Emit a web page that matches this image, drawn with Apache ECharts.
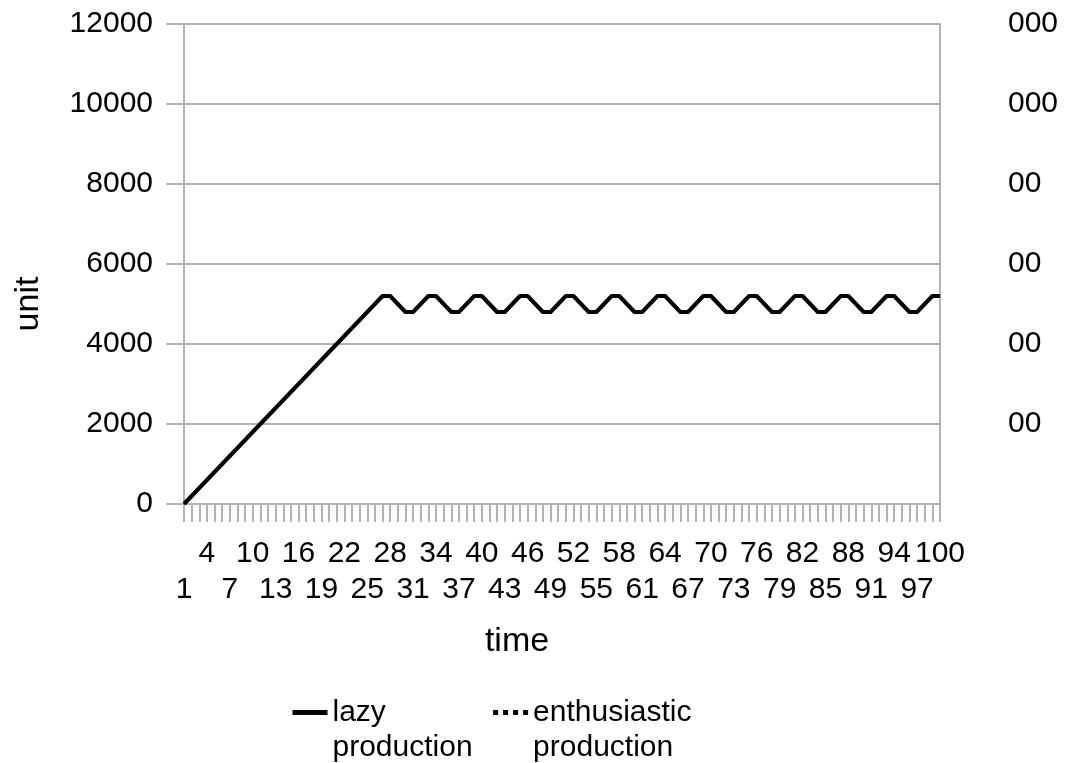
<!DOCTYPE html>
<html>
<head>
<meta charset="utf-8">
<title>production</title>
<script src="https://cdn.jsdelivr.net/npm/echarts@6/dist/echarts.min.js"></script>
<style>
  html, body { margin: 0; padding: 0; background: #ffffff; }
  #chart { width: 1077px; height: 763px; }
</style>
</head>
<body>
<div id="chart"></div>
<script>
// time steps 1..100
const timeSteps = [
  1, 2, 3, 4, 5, 6, 7, 8, 9, 10, 11, 12, 13, 14, 15, 16, 17, 18, 19, 20,
  21, 22, 23, 24, 25, 26, 27, 28, 29, 30, 31, 32, 33, 34, 35, 36, 37, 38, 39, 40,
  41, 42, 43, 44, 45, 46, 47, 48, 49, 50, 51, 52, 53, 54, 55, 56, 57, 58, 59, 60,
  61, 62, 63, 64, 65, 66, 67, 68, 69, 70, 71, 72, 73, 74, 75, 76, 77, 78, 79, 80,
  81, 82, 83, 84, 85, 86, 87, 88, 89, 90, 91, 92, 93, 94, 95, 96, 97, 98, 99, 100
];

// lazy production: ramp up, then oscillating around 5000
const lazyProduction = [
  0, 200, 400, 600, 800, 1000, 1200, 1400, 1600, 1800,
  2000, 2200, 2400, 2600, 2800, 3000, 3200, 3400, 3600, 3800,
  4000, 4200, 4400, 4600, 4800, 5000, 5200, 5200,
  5000, 4800, 4800, 5000, 5200, 5200,
  5000, 4800, 4800, 5000, 5200, 5200,
  5000, 4800, 4800, 5000, 5200, 5200,
  5000, 4800, 4800, 5000, 5200, 5200,
  5000, 4800, 4800, 5000, 5200, 5200,
  5000, 4800, 4800, 5000, 5200, 5200,
  5000, 4800, 4800, 5000, 5200, 5200,
  5000, 4800, 4800, 5000, 5200, 5200,
  5000, 4800, 4800, 5000, 5200, 5200,
  5000, 4800, 4800, 5000, 5200, 5200,
  5000, 4800, 4800, 5000, 5200, 5200,
  5000, 4800, 4800, 5000, 5200, 5200
];

// enthusiastic production: no points plotted
const enthusiasticProduction = [];

// tick labels of the secondary (right) axis, for 0, 2000, ... 12000
const rightTickLabels = ['', '00', '00', '00', '00', '000', '000'];

const seriesNames = ['lazy production', 'enthusiastic production'];

const FONT = '"Liberation Sans", Arial, sans-serif';
const GRID_GRAY = '#b3b3b3';

const chart = echarts.init(document.getElementById('chart'), null, { renderer: 'canvas' });

// shared look of the time-axis tick labels
const timeLabelBase = {
  fontFamily: FONT,
  fontSize: 30,
  lineHeight: 36,
  color: '#000000'
};

chart.setOption({
  backgroundColor: '#ffffff',
  animation: false,
  textStyle: { fontFamily: FONT, color: '#000000' },
  grid: { left: 184, right: 137, top: 24, bottom: 259, containLabel: false },
  legend: {
    left: 290,
    top: 660,
    padding: 0,
    orient: 'horizontal',
    itemWidth: 35,
    itemHeight: 14,
    itemGap: 18,
    data: seriesNames,
    itemStyle: { opacity: 0 },
    lineStyle: { width: 5 },
    formatter: function (name) {
      const parts = name.split(' ');
      return '\n' + parts[0] + '\n' + parts[1];
    },
    textStyle: { fontFamily: FONT, fontSize: 30, lineHeight: 35, color: '#000000' }
  },
  xAxis: [
    {
      // upper row of labels: 4, 10, 16, ... 100, plus all ticks
      type: 'category',
      data: timeSteps,
      boundaryGap: false,
      position: 'bottom',
      axisLine: { show: true, lineStyle: { color: GRID_GRAY, width: 2 } },
      axisTick: { show: true, interval: 0, length: 18, lineStyle: { color: GRID_GRAY, width: 2 } },
      axisLabel: Object.assign({
        interval: function (index) { return index % 6 === 3; },
        margin: 32
      }, timeLabelBase),
      splitLine: { show: false }
    },
    {
      // lower row of labels: 1, 7, 13, ... 97
      type: 'category',
      data: timeSteps,
      boundaryGap: false,
      position: 'bottom',
      offset: 0,
      axisLine: { show: false },
      axisTick: { show: false },
      axisLabel: Object.assign({
        interval: function (index) { return index % 6 === 0; },
        margin: 68
      }, timeLabelBase),
      splitLine: { show: false }
    }
  ],
  yAxis: [
    {
      type: 'value',
      min: 0,
      max: 12000,
      interval: 2000,
      position: 'left',
      axisLine: { show: true, lineStyle: { color: GRID_GRAY, width: 2 } },
      axisTick: { show: true, length: 18, lineStyle: { color: GRID_GRAY, width: 2 } },
      axisLabel: {
        margin: 31,
        fontFamily: FONT,
        fontSize: 30,
        color: '#000000',
        formatter: function (value) { return String(value); }
      },
      splitLine: { show: true, lineStyle: { color: GRID_GRAY, width: 2 } }
    },
    {
      type: 'value',
      min: 0,
      max: 12000,
      interval: 2000,
      position: 'right',
      axisLine: { show: true, lineStyle: { color: GRID_GRAY, width: 2 } },
      axisTick: { show: false },
      axisLabel: {
        margin: 68,
        fontFamily: FONT,
        fontSize: 30,
        color: '#000000',
        formatter: function (value) {
          return rightTickLabels[Math.round(value / 2000)];
        }
      },
      splitLine: { show: false }
    }
  ],
  graphic: [
    {
      type: 'text',
      x: 29,
      y: 304,
      rotation: Math.PI / 2,
      style: {
        text: 'unit',
        font: '34px ' + FONT,
        fill: '#000000',
        align: 'center',
        verticalAlign: 'middle'
      }
    },
    {
      type: 'text',
      x: 517,
      y: 642,
      style: {
        text: 'time',
        font: '34px ' + FONT,
        fill: '#000000',
        align: 'center',
        verticalAlign: 'middle'
      }
    }
  ],
  series: [
    {
      name: seriesNames[1],
      type: 'line',
      xAxisIndex: 0,
      yAxisIndex: 0,
      data: enthusiasticProduction,
      showSymbol: false,
      symbol: 'none',
      lineStyle: { color: '#000000', width: 4, type: 'dotted' },
      itemStyle: { color: '#000000' }
    },
    {
      name: seriesNames[0],
      type: 'line',
      xAxisIndex: 0,
      yAxisIndex: 0,
      data: lazyProduction,
      showSymbol: false,
      symbol: 'none',
      lineStyle: { color: '#000000', width: 4, join: 'round' },
      itemStyle: { color: '#000000' }
    }
  ]
});
</script>
</body>
</html>
